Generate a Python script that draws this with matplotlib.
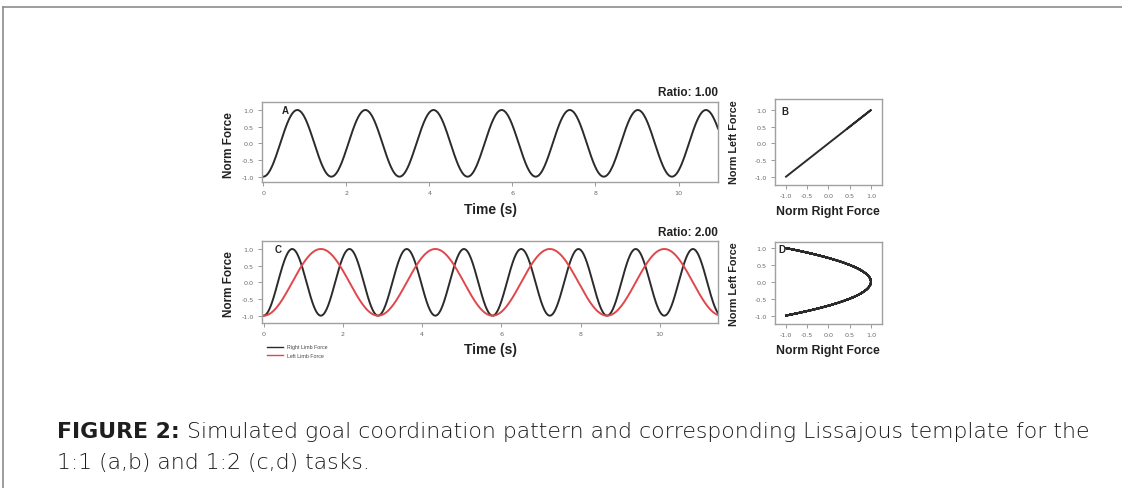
import numpy as np
import matplotlib.pyplot as plt
from matplotlib.lines import Line2D

# chart values
ratios = [1.00, 2.00]
ratio_labels = ["Ratio: 1.00", "Ratio: 2.00"]
period_a = 1.64          # s, one cycle of both limbs in panel A
period_c_left = 2.89     # s, one cycle of the left limb in panel C
t_end = [10.95, 11.47]   # s, end of the simulated trace
time_ticks = [0, 2, 4, 6, 8, 10]
force_ticks = [-1.0, -0.5, 0.0, 0.5, 1.0]
legend_labels = ["Right Limb Force", "Left Limb Force"]
panel_letters = ["A", "B", "C", "D"]
caption_bold = "FIGURE 2:"
caption_rest = " Simulated goal coordination pattern and corresponding Lissajous template for the"
caption_line2 = "1:1 (a,b) and 1:2 (c,d) tasks."

W, H = 1122, 489
fig = plt.figure(figsize=(W / 100, H / 100), dpi=100)
fig.patch.set_facecolor("white")

BLACK = "#2b2b2b"
RED = "#e0474c"
FRAME = "#8c8c8c"
TICK = "#8a8a8a"
LABEL = dict(fontweight="bold", color="#222222", family="Liberation Sans")


def px_axes(l, t, r, b):
    return fig.add_axes([l / W, 1 - b / H, (r - l) / W, (b - t) / H])


def style(ax, xt, yt, xfmt):
    for s in ax.spines.values():
        s.set_color("#a0a0a0")
        s.set_linewidth(1.0)
    ax.set_xticks(xt)
    ax.set_yticks(yt)
    ax.set_xticklabels([xfmt.format(v) for v in xt])
    ax.set_yticklabels([f"{v:.1f}" for v in yt])
    ax.tick_params(length=3, width=0.6, color=TICK, labelsize=4.6,
                   labelcolor="#6a6a6a", pad=3)


# outer frame of the figure page
fig.add_artist(Line2D([3 / W, 1], [1 - 8 / H, 1 - 8 / H], color=FRAME, lw=1.2))
fig.add_artist(Line2D([3 / W, 3 / W], [0, 1 - 8 / H], color=FRAME, lw=1.2))

# --- panel A: 1:1 time series
ax_a = px_axes(262, 103, 718, 183)
t_a = np.linspace(0, t_end[0], 800)
right_a = -np.cos(2 * np.pi * t_a / period_a)
left_a = -np.cos(2 * np.pi * ratios[0] * t_a / (period_a * ratios[0]))
ax_a.plot(t_a, right_a, color=BLACK, lw=1.4)
ax_a.set_xlim(-0.03, t_end[0])
ax_a.set_ylim(-1.16, 1.24)
style(ax_a, time_ticks, force_ticks, "{:d}")

# --- panel C: 1:2 time series
ax_c = px_axes(262, 242, 718, 324)
t_c = np.linspace(0, t_end[1], 900)
left_c = -np.cos(2 * np.pi * t_c / period_c_left)
right_c = -np.cos(2 * np.pi * ratios[1] * t_c / period_c_left)
ax_c.plot(t_c, right_c, color=BLACK, lw=1.4)
ax_c.plot(t_c, left_c, color=RED, lw=1.4)
ax_c.set_xlim(-0.04, t_end[1])
ax_c.set_ylim(-1.22, 1.24)
style(ax_c, time_ticks, force_ticks, "{:d}")

# --- panel B: Lissajous 1:1
ax_b = px_axes(775, 100, 882, 186)
ax_b.plot(right_a, left_a, color=BLACK, lw=1.4)
ax_b.set_xlim(-1.26, 1.26)
ax_b.set_ylim(-1.25, 1.33)
style(ax_b, force_ticks, force_ticks, "{:.1f}")

# --- panel D: Lissajous 1:2
ax_d = px_axes(775, 243, 882, 325)
ax_d.plot(right_c, left_c, color=BLACK, lw=1.4)
ax_d.set_xlim(-1.26, 1.26)
ax_d.set_ylim(-1.25, 1.18)
style(ax_d, force_ticks, force_ticks, "{:.1f}")


def ftext(x, y, s, **kw):
    return fig.text(x / W, 1 - y / H, s, **kw)


for yc in [145, 284]:
    ftext(229, yc, "Norm Force", rotation=90, ha="center", va="center", fontsize=8.5, **LABEL)
for y in [210, 350]:
    ftext(490, y, "Time (s)", ha="center", va="center", fontsize=10, **LABEL)
for yc in [142, 284]:
    ftext(734, yc, "Norm Left Force", rotation=90, ha="center", va="center", fontsize=7.8, **LABEL)
for y in [212, 351]:
    ftext(828, y, "Norm Right Force", ha="center", va="center", fontsize=8.8, **LABEL)
for lbl, y in zip(ratio_labels, [93, 233]):
    ftext(718, y, lbl, ha="right", va="center", fontsize=8.5, **LABEL)

letter_pos = [(ax_a, 0.05, 0.9), (ax_b, 0.09, 0.86), (ax_c, 0.035, 0.9), (ax_d, 0.06, 0.92)]
for letter, (ax, x, y) in zip(panel_letters, letter_pos):
    ax.text(x, y, letter, transform=ax.transAxes, ha="center", va="center",
            fontsize=7, **LABEL)

# legend below panel C
for lbl, col, y in zip(legend_labels, [BLACK, RED], [348, 356]):
    fig.add_artist(Line2D([267 / W, 283 / W], [1 - y / H] * 2, color=col, lw=1.0))
    ftext(287, y, lbl, ha="left", va="center", fontsize=3.8, color="#444444",
          family="Liberation Sans")

# caption, sized so the first line spans x=57..1088 px
cap_left, cap_right = 57, 1088
cap_kw = dict(family="DejaVu Sans", va="center")
fs = 13
for _ in range(4):
    t1 = ftext(cap_left, 432, caption_bold, fontweight="bold", fontsize=fs,
               color="#1e1e1e", **cap_kw)
    fig.canvas.draw()
    bb = t1.get_window_extent()
    t2 = fig.text(bb.x1 / W, 1 - 432 / H, caption_rest, fontweight="light",
                  fontsize=fs, color="#1a1a1a", **cap_kw)
    fig.canvas.draw()
    scale = (cap_right - cap_left) / (t2.get_window_extent().x1 - cap_left)
    if abs(scale - 1) < 0.003:
        break
    t1.remove()
    t2.remove()
    fs *= scale
ftext(cap_left, 463, caption_line2, fontweight="light", fontsize=fs,
      color="#1a1a1a", **cap_kw)

fig.savefig("out.png", dpi=100, facecolor="white")
